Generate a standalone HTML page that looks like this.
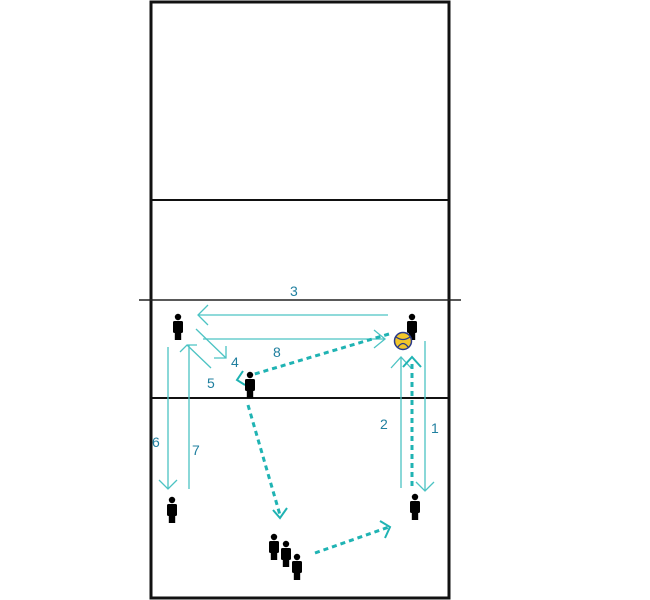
<!DOCTYPE html>
<html><head><meta charset="utf-8"><style>
html,body{margin:0;padding:0;background:#fff;}
svg{display:block;}
text{font-family:"Liberation Sans",sans-serif;font-size:14px;fill:#1f7f9f;}
</style></head><body>
<svg width="650" height="600" viewBox="0 0 650 600" xmlns="http://www.w3.org/2000/svg">
<defs>
<g id="p">
<circle cx="0" cy="-10" r="3.2" fill="#000"/>
<rect x="-5" y="-6" width="10" height="12" rx="1.5" fill="#000"/>
<rect x="-3.2" y="5" width="6.4" height="8" fill="#000"/>
</g>
</defs>
<rect x="151" y="2" width="298" height="596" fill="none" stroke="#111" stroke-width="3"/>
<line x1="151" y1="200" x2="449" y2="200" stroke="#111" stroke-width="2"/>
<line x1="139" y1="300" x2="461" y2="300" stroke="#222" stroke-width="1.5"/>
<line x1="151" y1="398" x2="449" y2="398" stroke="#111" stroke-width="2"/>

<g stroke="#4cc3c3" stroke-width="1.3" fill="none">
<!-- 3 -->
<line x1="388" y1="315" x2="198" y2="315"/><polyline points="208,305 198,315 208,325"/>
<!-- right arrow -->
<line x1="203" y1="339" x2="385" y2="339"/><polyline points="374,330 385,339 374,348"/>
<!-- 4 -->
<line x1="196" y1="329" x2="226" y2="358"/><polyline points="226,346 226,358 214,358"/>
<!-- 5 -->
<line x1="211" y1="368" x2="187" y2="345"/><polyline points="180,352 187,345 197,345"/>
<!-- 6 -->
<line x1="168" y1="347" x2="168" y2="489"/><polyline points="159,480 168,489 177,480"/>
<!-- 7 -->
<line x1="189" y1="489" x2="189" y2="345"/>
<!-- 2 -->
<line x1="401" y1="488" x2="401" y2="357"/><polyline points="391,368 401,357 411,368"/>
<!-- 1 -->
<line x1="425" y1="341" x2="425" y2="491"/><polyline points="416,482 425,491 434,482"/>
</g>
<g stroke="#1fb3b3" stroke-width="3" fill="none" stroke-dasharray="5,4">
<line x1="389" y1="334" x2="248" y2="376"/>
<line x1="248" y1="405" x2="280" y2="515"/>
<line x1="315" y1="553" x2="389" y2="527"/>
<line x1="412" y1="486" x2="412" y2="360"/>
</g>
<g stroke="#1fb3b3" stroke-width="2" fill="none">
<polyline points="243,371 237,380 245,385"/>
<polyline points="273,510 280,518 287,508"/>
<polyline points="380,521 390,527 385,538"/>
<polyline points="403,367 412,357 421,367"/>
</g>

<text x="290" y="296">3</text>
<text x="231" y="367">4</text>
<text x="273" y="357">8</text>
<text x="207" y="388">5</text>
<text x="152" y="447">6</text>
<text x="192" y="455">7</text>
<text x="380" y="429">2</text>
<text x="431" y="433">1</text>

<use href="#p" x="178" y="327"/>
<use href="#p" x="412" y="327"/>
<use href="#p" x="250" y="385"/>
<use href="#p" x="172" y="510"/>
<use href="#p" x="415" y="507"/>
<use href="#p" x="274" y="547"/>
<use href="#p" x="286" y="554"/>
<use href="#p" x="297" y="567"/>

<circle cx="403" cy="341" r="8.5" fill="#f2c62a" stroke="#2a3a8a" stroke-width="1.5"/>
<path d="M396,337 Q403,342 410,337 M398,347 Q403,340 408,347" stroke="#2a3a8a" stroke-width="1.3" fill="none"/>
</svg>
</body></html>
